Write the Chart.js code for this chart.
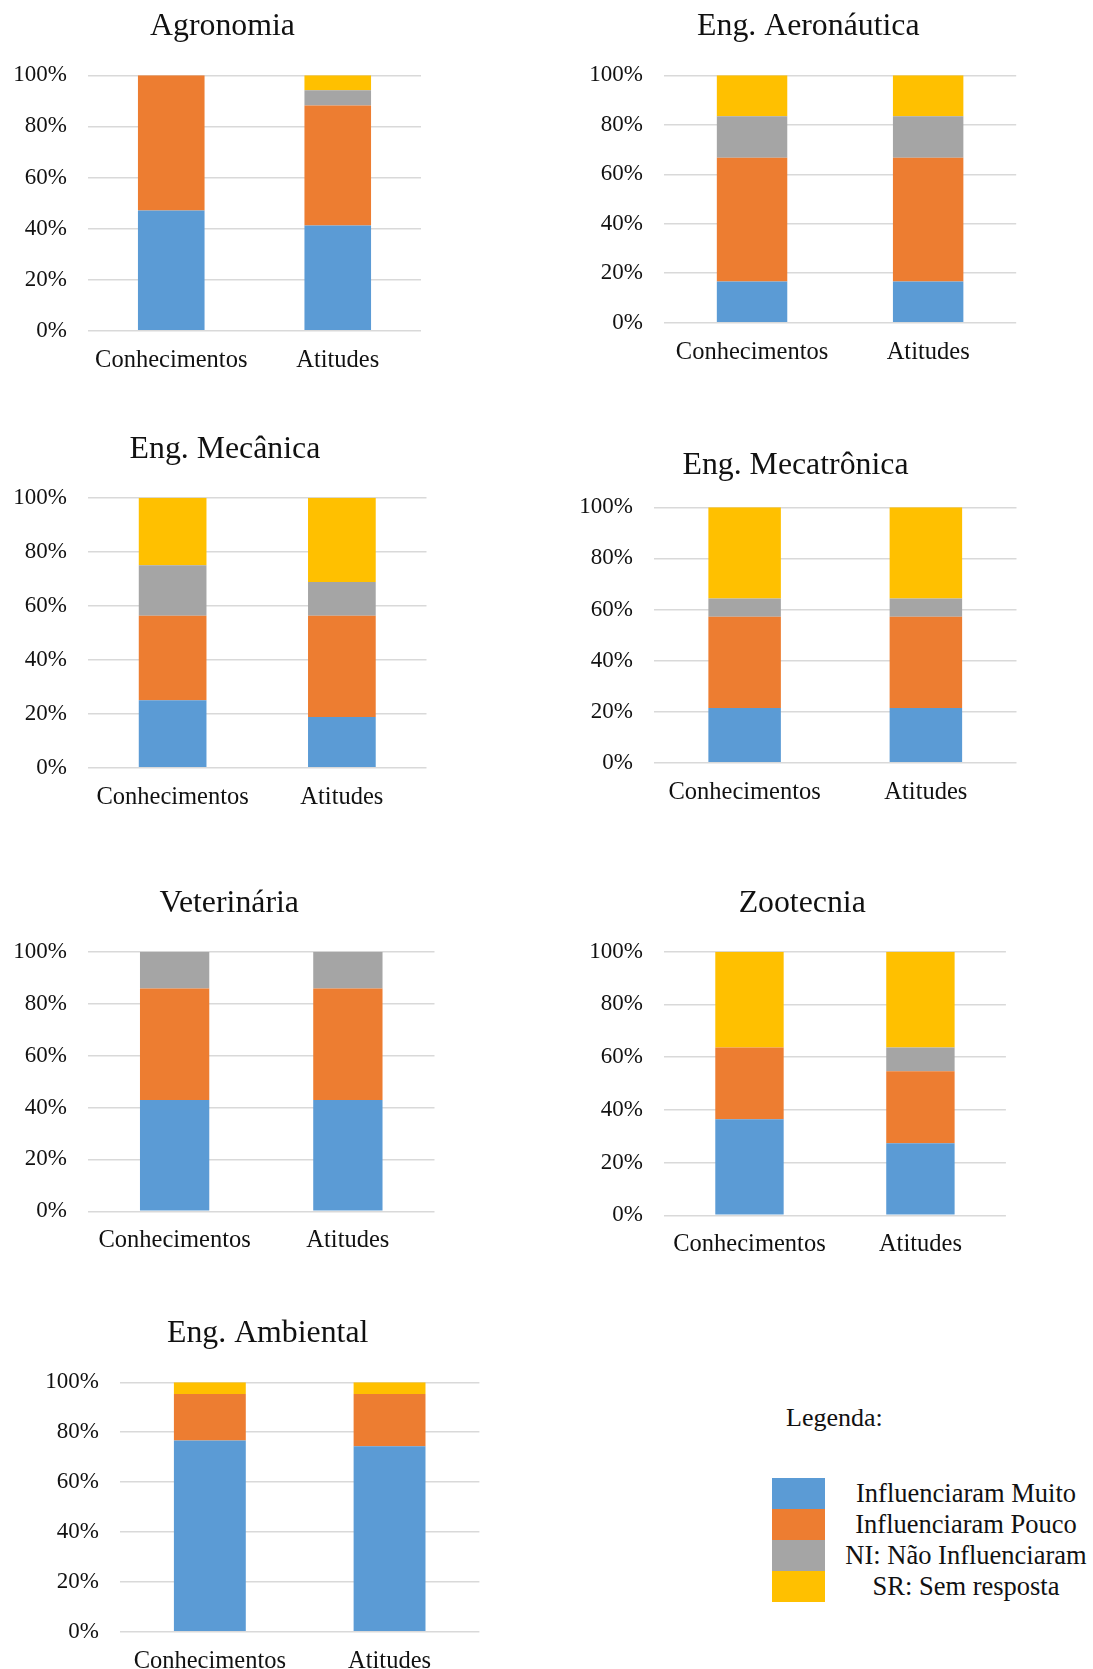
<!DOCTYPE html>
<html lang="pt-BR">
<head>
<meta charset="utf-8">
<title>Influência por curso</title>
<script src="https://cdn.jsdelivr.net/npm/chart.js@4.4.1/dist/chart.umd.min.js"></script>
<style>
  html, body { margin: 0; padding: 0; background: #ffffff; }
  body {
    width: 1093px; height: 1669px; overflow: hidden; position: relative;
    font-family: 'Liberation Serif', 'Times New Roman', serif; color: #111111;
  }
  canvas { position: absolute; }
  .legenda-titulo {
    position: absolute; left: 786px; top: 1405px;
    font-size: 26px; line-height: 26px; white-space: nowrap;
  }
  .legenda { position: absolute; left: 772px; top: 1478px; }
  .legenda .item { display: flex; height: 31px; }
  .legenda .cor { width: 53px; height: 31px; }
  .legenda .texto {
    width: 252px; margin-left: 15px; text-align: center;
    font-size: 26.5px; line-height: 31px; white-space: nowrap;
  }
</style>
</head>
<body>
<div class="legenda-titulo">Legenda:</div>
<div class="legenda" id="legenda"></div>
<script>
// ---- data ----
const cursos = ['Agronomia', 'Eng. Aeronáutica', 'Eng. Mecânica', 'Eng. Mecatrônica',
                'Veterinária', 'Zootecnia', 'Eng. Ambiental'];
const categorias = ['Conhecimentos', 'Atitudes'];
const series = ['Influenciaram Muito', 'Influenciaram Pouco', 'NI: Não Influenciaram', 'SR: Sem resposta'];
const ticksY = [0, 20, 40, 60, 80, 100];

// percentages per course: [Conhecimentos, Atitudes]
const influenciaramMuito = [[47.1, 41.2], [16.7, 16.7], [25.0, 18.75], [21.4, 21.4], [42.9, 42.9], [36.4, 27.3], [76.7, 74.4]];
const influenciaramPouco = [[52.9, 47.0], [50.0, 50.0], [31.25, 37.5], [35.7, 35.7], [42.9, 42.9], [27.3, 27.3], [18.6, 20.9]];
const naoInfluenciaram   = [[0, 5.9],     [16.7, 16.7], [18.75, 12.5], [7.2, 7.2],   [14.2, 14.2], [0, 9.1],     [0, 0]];
const semResposta        = [[0, 5.9],     [16.6, 16.6], [25.0, 31.25], [35.7, 35.7], [0, 0],       [36.3, 36.3], [4.7, 4.7]];

// ---- styling ----
const cores = ['#5B9BD5', '#ED7D31', '#A5A5A5', '#FFC000'];
const FONTE = "'Liberation Serif', 'Times New Roman', serif";
const COR_TEXTO = '#111111';
const TAM_TITULO = 31.8;
const TAM_TICK = 23;
const TAM_CATEGORIA = 24.5;

// page frames of each panel: plot box and title anchor
const quadros = [
  { plotL: 87.5,  plotR: 420.5,  plotT: 75.3,   plotB: 330.7,  tituloX: 222,   tituloBase: 34.7 },
  { plotL: 663.5, plotR: 1015.7, plotT: 75.3,   plotB: 322.7,  tituloX: 807.8, tituloBase: 34.7 },
  { plotL: 87.7,  plotR: 426.2,  plotT: 497.7,  plotB: 767.7,  tituloX: 224.6, tituloBase: 458.3 },
  { plotL: 654.3, plotR: 1016.8, plotT: 507.3,  plotB: 762.7,  tituloX: 795.8, tituloBase: 474 },
  { plotL: 87.7,  plotR: 434.2,  plotT: 951.7,  plotB: 1211.3, tituloX: 228.9, tituloBase: 911.7 },
  { plotL: 663.7, plotR: 1005.6, plotT: 951.7,  plotB: 1215.3, tituloX: 801.9, tituloBase: 911.7 },
  { plotL: 120.1, plotR: 479.5,  plotT: 1382.3, plotB: 1631.7, tituloX: 267.8, tituloBase: 1341.7 }
];

const valores = [influenciaramMuito, influenciaramPouco, naoInfluenciaram, semResposta];
const LARGURA_EIXO_Y = 84;

quadros.forEach((q, i) => {
  // canvas box: y-axis band on the left, spacer band on the right so the
  // full-width title lands on its own centre
  const Lc = q.plotL - LARGURA_EIXO_Y;
  const espacoDireita = Math.max(0, 2 * q.tituloX - Lc - q.plotR);
  const Tc = Math.floor(q.tituloBase - 36);
  const Wc = q.plotR + espacoDireita - Lc;
  const Hc = Math.ceil(q.plotB + 60 - Tc);
  const lh = 1.2 * TAM_TITULO;
  const meioTitulo = q.tituloBase - 0.267 * TAM_TITULO;
  const padT = meioTitulo - Tc - lh / 2;
  const tituloPadBottom = q.plotT - Tc - padT - lh;
  const alturaEixoX = Hc - (q.plotB - Tc);

  const canvas = document.createElement('canvas');
  const wInt = Math.ceil(Wc);
  canvas.width = wInt;
  canvas.height = Hc;
  canvas.style.left = Lc + 'px';
  canvas.style.top = Tc + 'px';
  canvas.style.width = wInt + 'px';
  canvas.style.height = Hc + 'px';
  document.body.appendChild(canvas);

  new Chart(canvas, {
    type: 'bar',
    data: {
      labels: categorias,
      datasets: series.map((nome, s) => ({
        label: nome,
        data: valores[s][i],
        backgroundColor: cores[s],
        borderWidth: 0,
        barPercentage: 0.4,
        categoryPercentage: 1.0
      }))
    },
    options: {
      responsive: false,
      animation: false,
      devicePixelRatio: 1,
      layout: { padding: { left: 0, right: wInt - Wc, top: padT, bottom: 0 } },
      plugins: {
        legend: { display: false },
        tooltip: { enabled: false },
        title: {
          display: true,
          text: cursos[i],
          color: COR_TEXTO,
          font: { family: FONTE, size: TAM_TITULO, weight: 'normal', lineHeight: 1.2 },
          padding: { top: 0, bottom: tituloPadBottom }
        }
      },
      scales: {
        x: {
          stacked: true,
          grid: { display: false, drawTicks: false },
          border: { display: false },
          ticks: {
            color: COR_TEXTO, padding: 15, maxRotation: 0, autoSkip: false,
            font: { family: FONTE, size: TAM_CATEGORIA }
          },
          afterFit: (s) => { s.height = alturaEixoX; }
        },
        y: {
          stacked: true,
          min: 0,
          max: 100,
          grid: { color: '#D9D9D9', lineWidth: 1.5, drawTicks: false },
          border: { display: false },
          ticks: {
            color: COR_TEXTO, padding: 21,
            font: { family: FONTE, size: TAM_TICK },
            callback: (v) => v + '%'
          },
          afterBuildTicks: (s) => { s.ticks = ticksY.map(v => ({ value: v })); },
          afterFit: (s) => { s.width = LARGURA_EIXO_Y; }
        },
        // empty band on the right of the plot
        espaco: {
          type: 'linear',
          position: 'right',
          display: true,
          grid: { display: false, drawTicks: false },
          border: { display: false },
          ticks: { display: false },
          afterFit: (s) => { s.width = espacoDireita; }
        }
      }
    }
  });
});

// legend built from the same series and colours
const legenda = document.getElementById('legenda');
series.forEach((nome, s) => {
  const item = document.createElement('div');
  item.className = 'item';
  const cor = document.createElement('div');
  cor.className = 'cor';
  cor.style.background = cores[s];
  const texto = document.createElement('div');
  texto.className = 'texto';
  texto.textContent = nome;
  item.appendChild(cor);
  item.appendChild(texto);
  legenda.appendChild(item);
});
</script>
</body>
</html>
